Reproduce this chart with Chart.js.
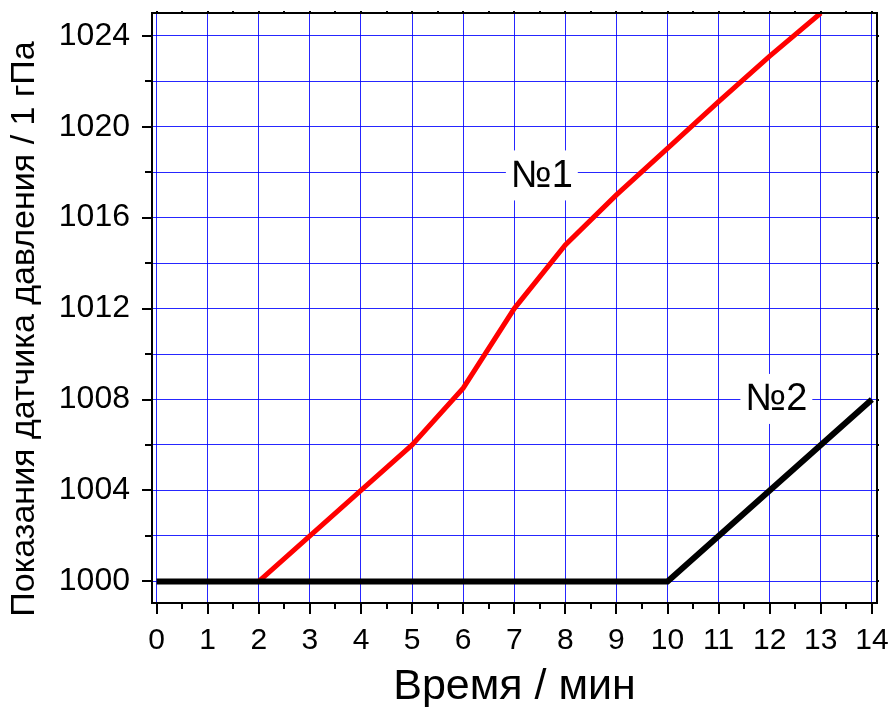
<!DOCTYPE html>
<html>
<head>
<meta charset="utf-8">
<script src="https://cdn.jsdelivr.net/npm/chart.js@4/dist/chart.umd.min.js"></script>
<style>
html,body{margin:0;padding:0;background:#fff;}
#wrap{width:891px;height:707px;position:relative;}
</style>
</head>
<body>
<div id="wrap"><canvas id="c" width="891" height="707"></canvas></div>
<script>
// ---- data ----
const redTime = [2, 3, 4, 5, 6, 7, 8, 9, 10, 11, 12, 13];
const redPressure = [1000, 1002, 1004, 1006, 1008.5, 1012, 1014.8, 1017, 1019.05, 1021.1, 1023.1, 1025];
const blackTime = [0, 10, 11, 12, 13, 14];
const blackPressure = [1000, 1000, 1002, 1004, 1006, 1008];
const xTickValues = [0, 1, 2, 3, 4, 5, 6, 7, 8, 9, 10, 11, 12, 13, 14];
const yTickValues = [1000, 1002, 1004, 1006, 1008, 1010, 1012, 1014, 1016, 1018, 1020, 1022, 1024];
const yLabelValues = [1000, 1004, 1008, 1012, 1016, 1020, 1024];
const seriesLabels = ['№1', '№2'];
const labelPositions = [{x: 7.54, y: 1017.9}, {x: 12.13, y: 1008.07}];
const xTitle = 'Время / мин';
const yTitle = 'Показания датчика давления / 1 гПа';

const FONT = '"Liberation Sans", Arial, sans-serif';
const toXY = (xs, ys) => xs.map((x, i) => ({x: x, y: ys[i]}));

const framePlugin = {
  id: 'frame',
  beforeDatasetsDraw(chart) {
    const ctx = chart.ctx;
    const xs = chart.scales.x, ys = chart.scales.y;
    ctx.save();
    ctx.font = '38px ' + FONT;
    ctx.textAlign = 'center';
    ctx.textBaseline = 'middle';
    seriesLabels.forEach((t, i) => {
      const px = xs.getPixelForValue(labelPositions[i].x);
      const py = ys.getPixelForValue(labelPositions[i].y);
      const w = ctx.measureText(t).width;
      ctx.fillStyle = '#fff';
      ctx.fillRect(px - w / 2 - 5, py - 24, w + 10, 50);
      ctx.fillStyle = '#000';
      ctx.fillText(t, px, py + 2);
    });
    ctx.restore();
  },
  afterDraw(chart) {
    const ctx = chart.ctx;
    const a = chart.chartArea;
    const xs = chart.scales.x, ys = chart.scales.y;
    ctx.save();
    // y axis title (placed slightly below the axis centre as in the reference)
    ctx.font = '34px ' + FONT;
    ctx.fillStyle = '#000';
    ctx.textAlign = 'center';
    ctx.textBaseline = 'middle';
    ctx.translate(24.4, (a.top + a.bottom) / 2 + 21);
    ctx.rotate(-Math.PI / 2);
    ctx.fillText(yTitle, 0, 0);
    ctx.restore();

    ctx.save();
    ctx.strokeStyle = '#000';
    ctx.lineWidth = 2;
    ctx.strokeRect(a.left, a.top, a.right - a.left, a.bottom - a.top);
    ctx.beginPath();
    // bottom & top ticks
    for (let v = xTickValues[0]; v <= xTickValues[xTickValues.length - 1] + 0.001; v += 0.5) {
      const px = Math.round(xs.getPixelForValue(v));
      const major = Math.abs(v - Math.round(v)) < 1e-6;
      ctx.moveTo(px, a.bottom);
      ctx.lineTo(px, a.bottom + (major ? 11 : 6));
      ctx.moveTo(px, a.top);
      ctx.lineTo(px, a.top - 2);
    }
    // left & right ticks
    yTickValues.forEach(v => {
      const py = Math.round(ys.getPixelForValue(v));
      const major = yLabelValues.includes(v);
      ctx.moveTo(a.left, py);
      ctx.lineTo(a.left - (major ? 10 : 7), py);
      ctx.moveTo(a.right, py);
      ctx.lineTo(a.right + 2, py);
    });
    ctx.stroke();
    ctx.restore();
  }
};

new Chart(document.getElementById('c'), {
  type: 'scatter',
  data: {
    datasets: [
      {
        label: seriesLabels[1],
        data: toXY(blackTime, blackPressure),
        showLine: true,
        borderColor: '#000',
        borderWidth: 6,
        pointRadius: 0,
        order: 0
      },
      {
        label: seriesLabels[0],
        data: toXY(redTime, redPressure),
        showLine: true,
        borderColor: '#ff0000',
        borderWidth: 5,
        pointRadius: 0,
        order: 1
      }
    ]
  },
  options: {
    responsive: false,
    animation: false,
    events: [],
    layout: {padding: {top: 13, right: 14, left: 0, bottom: 0}},
    plugins: {legend: {display: false}, tooltip: {enabled: false}},
    scales: {
      x: {
        type: 'linear',
        min: -0.09,
        max: 14.1,
        afterBuildTicks: s => { s.ticks = xTickValues.map(v => ({value: v})); },
        afterFit: s => { s.height = 104; s.paddingLeft = 0; s.paddingRight = 0; },
        grid: {color: 'rgba(0,0,255,0.85)', lineWidth: 1, drawTicks: false},
        border: {display: false},
        ticks: {
          padding: 20,
          color: '#000',
          font: {family: FONT, size: 30},
          maxRotation: 0,
          autoSkip: false,
          callback: v => String(v)
        },
        title: {
          display: true,
          text: xTitle,
          color: '#000',
          font: {family: FONT, size: 43},
          padding: {top: 0, bottom: -6}
        }
      },
      y: {
        type: 'linear',
        min: 999.05,
        max: 1025,
        afterBuildTicks: s => { s.ticks = yTickValues.map(v => ({value: v})); },
        afterFit: s => { s.width = 152; s.paddingTop = 0; s.paddingBottom = 0; },
        grid: {color: 'rgba(0,0,255,0.85)', lineWidth: 1, drawTicks: false},
        border: {display: false},
        ticks: {
          padding: 22,
          color: '#000',
          font: {family: FONT, size: 32},
          autoSkip: false,
          callback: v => (yLabelValues.includes(v) ? String(v) : '')
        },
        title: {display: false}
      }
    }
  },
  plugins: [framePlugin]
});
</script>
</body>
</html>
